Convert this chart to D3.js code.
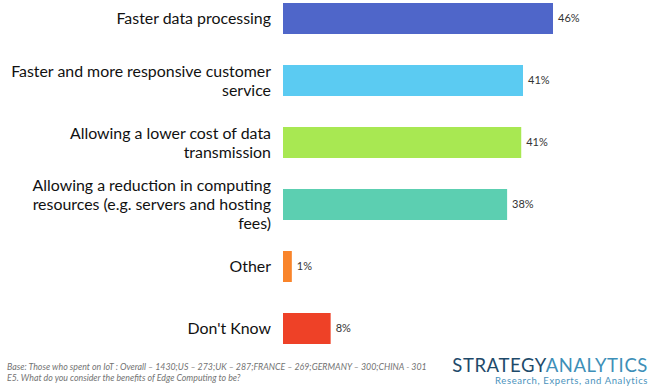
<!DOCTYPE html>
<html>
<head>
<meta charset="utf-8">
<script src="https://cdn.jsdelivr.net/npm/d3@7"></script>
<style>
  html, body { margin: 0; padding: 0; background: #fff; }
  svg { display: block; }
</style>
</head>
<body>
<svg id="chart" width="650" height="388"></svg>
<script>
const categories = [
  "Faster data processing",
  "Faster and more responsive customer service",
  "Allowing a lower cost of data transmission",
  "Allowing a reduction in computing resources (e.g. servers and hosting fees)",
  "Other",
  "Don't Know"
];
const labelLines = [
  ["Faster data processing"],
  ["Faster and more responsive customer", "service"],
  ["Allowing a lower cost of data", "transmission"],
  ["Allowing a reduction in computing", "resources (e.g. servers and hosting", "fees)"],
  ["Other"],
  ["Don't Know"]
];
const values = [45.9, 40.8, 40.5, 38.1, 1.5, 8.1];
const valueLabels = ["46%", "41%", "41%", "38%", "1%", "8%"];
const colors = ["#4F66C9", "#5BCBF2", "#A8E852", "#5CCFB1", "#F9842A", "#EE4127"];
const footnotes = [
  "Base: Those who spent on IoT : Overall \u2013 1430;US \u2013 273;UK \u2013 287;FRANCE \u2013 269;GERMANY \u2013 300;CHINA - 301",
  "E5. What do you consider the benefits of Edge Computing to be?"
];

const svg = d3.select("#chart");
const font = "Lato, 'Open Sans', sans-serif";

const y = d3.scaleBand().domain(categories).range([3, 344]).paddingInner(0.5).paddingOuter(0);
const x = d3.scaleLinear().domain([0, d3.max(values)]).range([283, 553]);

const g = svg.append("g");
g.selectAll("rect.bar").data(categories).join("rect")
  .attr("class", "bar")
  .attr("x", x(0))
  .attr("y", d => y(d))
  .attr("width", (d, i) => x(values[i]) - x(0))
  .attr("height", y.bandwidth())
  .attr("fill", (d, i) => colors[i]);

g.selectAll("text.val").data(categories).join("text")
  .attr("class", "val")
  .attr("x", (d, i) => x(values[i]) + 5)
  .attr("y", d => y(d) + y.bandwidth() / 2)
  .attr("dy", "0.35em")
  .attr("font-family", font)
  .attr("font-size", 11)
  .attr("fill", "#333")
  .text((d, i) => valueLabels[i]);

const lineH = 19;
const lbl = g.selectAll("text.cat").data(categories).join("text")
  .attr("class", "cat")
  .attr("text-anchor", "end")
  .attr("font-family", font)
  .attr("font-size", 15.9)
  .attr("fill", "#111");
lbl.each(function(d, i) {
  const lines = labelLines[i];
  const cy = y(d) + y.bandwidth() / 2;
  const start = cy - (lines.length - 1) * lineH / 2;
  d3.select(this).selectAll("tspan").data(lines).join("tspan")
    .attr("x", 271)
    .attr("y", (l, j) => start + j * lineH)
    .attr("dy", "0.35em")
    .text(l => l);
});

svg.selectAll("text.foot").data(footnotes).join("text")
  .attr("class", "foot")
  .attr("x", 7)
  .attr("y", (d, i) => 370 + i * 11)
  .attr("font-family", font)
  .attr("font-style", "italic")
  .attr("font-size", 8.8)
  .attr("fill", "#737373")
  .text(d => d);

const logo = svg.append("text")
  .attr("x", 648).attr("y", 372)
  .attr("text-anchor", "end")
  .attr("font-family", font)
  .attr("font-size", 18.5)
  .attr("letter-spacing", 0.6);
logo.append("tspan").attr("fill", "#1E4A6A").text("STRATEGY");
logo.append("tspan").attr("fill", "#3D8FB8").text("ANALYTICS");

svg.append("text")
  .attr("x", 648).attr("y", 384)
  .attr("text-anchor", "end")
  .attr("font-family", font)
  .attr("font-size", 9.5)
  .attr("letter-spacing", 0.6)
  .attr("fill", "#4A92BC")
  .text("Research, Experts, and Analytics");
</script>
</body>
</html>
